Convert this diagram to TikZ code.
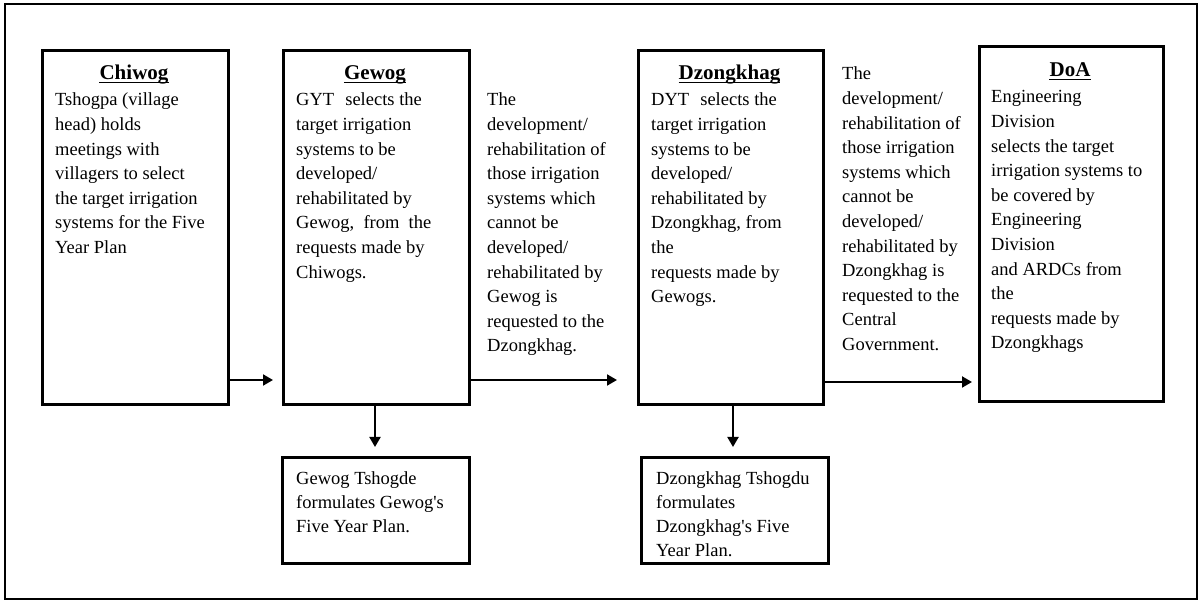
\documentclass[tikz,border=0pt]{standalone}
\usepackage{fontspec}
\setmainfont{Liberation Serif}
\newfontfamily\plainser{Liberation Serif}
\usetikzlibrary{arrows.meta}
\newcommand{\sq}{{\plainser\char"0027}}
\begin{document}
\begin{tikzpicture}[x=1pt,y=-1pt,
  box/.style={draw=black,line width=2.8pt,inner sep=0pt,anchor=north west},
  head/.style={anchor=base,inner sep=0pt,font=\fontsize{21}{24}\selectfont\bfseries},
  ul/.style={line width=1.5pt},
  body/.style={anchor=base west,inner sep=0pt,font=\fontsize{18.5}{24.6}\selectfont},
  smallbody/.style={anchor=base west,inner sep=0pt,font=\fontsize{18.5}{24}\selectfont},
  arr/.style={line width=2pt,-{Triangle[length=10pt,width=11pt]}}]
\useasboundingbox (0,0) rectangle (1200,601);
\draw[line width=2.6pt] (5,4) rectangle (1197,599);
% boxes
\node[box,minimum width=186pt,minimum height=354pt] (chiwog) at (41,49) {};
\node[box,minimum width=186pt,minimum height=354pt] (gewog) at (282,49) {};
\node[box,minimum width=185pt,minimum height=354pt] (dzong) at (637,49) {};
\node[box,minimum width=184pt,minimum height=355pt] (doa) at (978,45) {};
\node[box,minimum width=187pt,minimum height=106pt] (gt) at (281,456) {};
\node[box,minimum width=187pt,minimum height=106pt] (dt) at (640,456) {};
% headings
\node[head] (hchiwog) at (134,80) {Chiwog};
\node[head] (hgewog) at (375,80) {Gewog};
\node[head] (hdzong) at (729.5,80) {Dzongkhag};
\node[head] (hdoa) at (1070,77) {DoA};
\foreach \h in {hchiwog,hgewog,hdzong,hdoa}
  \draw[ul] ([yshift=-2.5pt]\h.base west) -- ([yshift=-2.5pt]\h.base east);
% body texts
\node[body] (tchiwog) at (55,106) {\parbox[t]{200pt}{Tshogpa (village\\head) holds\\meetings with\\villagers to select\\the target irrigation\\systems for the Five\\Year Plan}};
\node[body] (tgewog) at (296,106) {\parbox[t]{200pt}{GYT\hspace{0.6em}selects the\\target irrigation\\systems to be\\developed/\\rehabilitated by\\Gewog,\ \ from\ \ the\\requests made by\\Chiwogs.}};
\node[body] (tmid1) at (487,106) {\parbox[t]{200pt}{The\\development/\\rehabilitation\ of\\those irrigation\\systems which\\cannot be\\developed/\\rehabilitated by\\Gewog\ is\\requested to the\\Dzongkhag.}};
\node[body] (tdzong) at (651,106) {\parbox[t]{200pt}{DYT\hspace{0.6em}selects the\\target irrigation\\systems to be\\developed/\\rehabilitated by\\Dzongkhag, from\\the\\requests made by\\Gewogs.}};
\node[body] (tmid2) at (842,80) {\parbox[t]{200pt}{The\\development/\\rehabilitation\ of\\those irrigation\\systems which\\cannot be\\developed/\\rehabilitated by\\Dzongkhag is\\requested to the\\Central\\Government.}};
\node[body] (tdoa) at (991,103) {\parbox[t]{200pt}{Engineering\\Division\\selects the target\\irrigation\ systems to\\be covered by\\Engineering\\Division\\and ARDCs from\\the\\requests made by\\Dzongkhags}};
\node[smallbody] (tgt) at (296,485) {\parbox[t]{200pt}{Gewog Tshogde\\formulates Gewog\sq s\\Five Year Plan.}};
\node[smallbody] (tdt) at (656,485) {\parbox[t]{200pt}{Dzongkhag Tshogdu\\formulates\\Dzongkhag\sq s Five\\Year Plan.}};
% connectors
\coordinate (a1) at (273,380);
\coordinate (a2s) at (470,380);
\coordinate (a2) at (617,380);
\coordinate (a3) at (972,382);
\coordinate (d1) at (375,447);
\coordinate (d2) at (733,447);
\draw[arr] (chiwog.east |- a1) -- (a1);
\draw[arr] (gewog.east |- a2s) -- (a2);
\draw[arr] (dzong.east |- a3) -- (a3);
\draw[arr] (gewog.south -| d1) -- (d1);
\draw[arr] (dzong.south -| d2) -- (d2);
\end{tikzpicture}
\end{document}
